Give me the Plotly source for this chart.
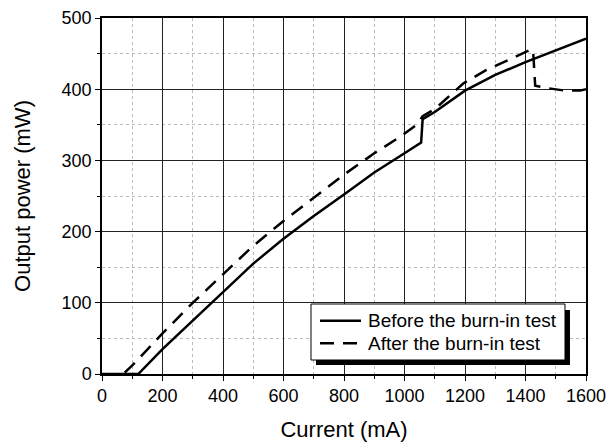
import plotly.graph_objects as go

# Before the burn-in test (solid)
before_x = [0, 120, 200, 300, 362, 400, 500, 600, 700, 800, 900, 1000, 1055, 1060, 1100, 1200, 1300, 1400, 1500, 1600]
before_y = [0, 0, 35, 75, 100, 115, 155, 190, 222, 252, 283, 310, 325, 358, 368, 398, 420, 438, 455, 471]

# After the burn-in test (dashed)
after_x = [75, 100, 200, 300, 400, 500, 600, 700, 800, 900, 985, 1040, 1060, 1100, 1194, 1271, 1360, 1420, 1425, 1432, 1465, 1530, 1580, 1600]
after_y = [2, 12, 57, 100, 140, 180, 215, 248, 280, 310, 333, 350, 362, 372, 408, 427, 445, 456, 455, 405, 402, 398, 398, 400]

series_names = ["Before the burn-in test", "After the burn-in test"]
dash_style = "14px,9px"
FONT = "Liberation Sans, Arial, sans-serif"

fig = go.Figure()
fig.add_trace(go.Scatter(x=before_x, y=before_y, mode="lines", name=series_names[0],
                         line=dict(color="black", width=2.5), showlegend=False))
fig.add_trace(go.Scatter(x=after_x, y=after_y, mode="lines", name=series_names[1],
                         line=dict(color="black", width=2.5, dash=dash_style), showlegend=False))

# Legend drawn by hand: shadow, box, samples, labels
fig.add_shape(type="rect", xref="paper", yref="paper", x0=0.4421, x1=0.9669, y0=0.0253, y1=0.1798,
              fillcolor="black", line=dict(width=0), layer="above")
fig.add_shape(type="rect", xref="paper", yref="paper", x0=0.4318, x1=0.9566, y0=0.0393, y1=0.1966,
              fillcolor="white", line=dict(color="black", width=1), layer="above")
rows = [0.1497, 0.0862]
dashes = ["solid", dash_style]
for name, yy, d in zip(series_names, rows, dashes):
    fig.add_shape(type="line", xref="paper", yref="paper", x0=0.4504, x1=0.5351, y0=yy, y1=yy,
                  line=dict(color="black", width=2.5, dash=d), layer="above")
    fig.add_annotation(xref="paper", yref="paper", x=0.5455, y=yy, text=name, showarrow=False,
                       xanchor="left", yanchor="middle", font=dict(family=FONT, size=19, color="black"))

axis_common = dict(
    showline=True, linecolor="black", linewidth=1.5, mirror=True,
    ticks="outside", ticklen=5, tickwidth=1, tickcolor="black",
    showgrid=True, gridcolor="#222222", gridwidth=1,
    zeroline=False, automargin=False, ticklabeloverflow="allow",
    tickfont=dict(family=FONT, size=18, color="black"),
)

fig.update_xaxes(**axis_common, range=[0, 1600], dtick=200,
                 title=dict(text="Current (mA)", font=dict(family=FONT, size=22, color="black"), standoff=17),
                 minor=dict(dtick=100, showgrid=True, gridcolor="#bbbbbb", griddash="dot", gridwidth=1,
                            ticks="outside", ticklen=3, tickcolor="black"))
fig.update_yaxes(**axis_common, range=[0, 500], dtick=100,
                 title=dict(text="Output power (mW)", font=dict(family=FONT, size=22, color="black"), standoff=25),
                 minor=dict(dtick=50, showgrid=True, gridcolor="#bbbbbb", griddash="dot", gridwidth=1,
                            ticks="outside", ticklen=3, tickcolor="black"))

fig.update_layout(
    width=606, height=442,
    margin=dict(l=102, r=20, t=18, b=68),
    plot_bgcolor="white", paper_bgcolor="white",
    showlegend=False,
    xaxis2=dict(overlaying="x", side="top", range=[0, 1600], dtick=200, showticklabels=False,
                ticks="inside", ticklen=5, showgrid=False, zeroline=False, showline=False,
                minor=dict(dtick=100, ticks="inside", ticklen=3), anchor="y"),
    yaxis2=dict(overlaying="y", side="right", range=[0, 500], dtick=100, showticklabels=False,
                ticks="inside", ticklen=5, showgrid=False, zeroline=False, showline=False,
                minor=dict(dtick=50, ticks="inside", ticklen=3), anchor="x"),
)

fig.write_html("out.html", config={"displayModeBar": False},
               post_script="document.body.style.margin='0';document.body.style.overflow='hidden';")
